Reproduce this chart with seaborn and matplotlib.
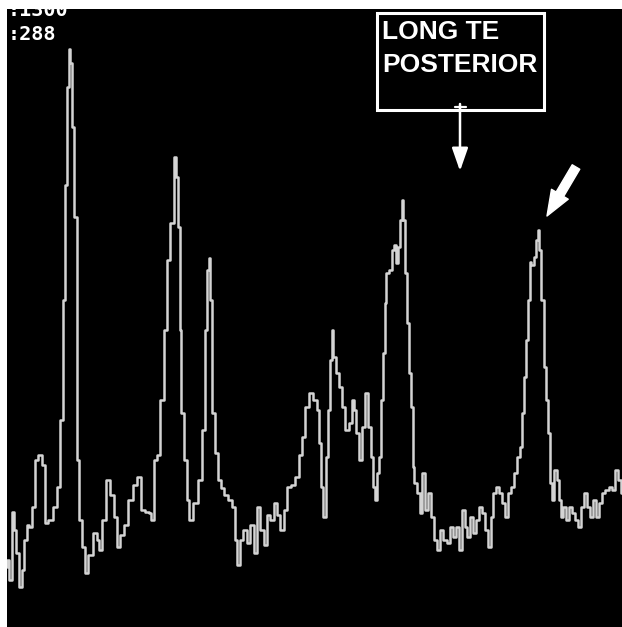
import matplotlib
matplotlib.use("Agg")
import matplotlib.pyplot as plt
import seaborn as sns
import pandas as pd
from matplotlib.patches import Rectangle

# spectrum (channel position, signal intensity)
channel = [
    7, 8, 10, 13, 15, 17, 20, 23, 25, 28,
    30, 33, 36, 40, 43, 46, 50, 55, 58, 61,
    64, 66, 68, 69, 71, 73, 75, 78, 80, 83,
    86, 90, 95, 98, 100, 103, 108, 112, 115, 118,
    122, 126, 130, 135, 139, 142, 147, 150, 152, 155,
    158, 162, 165, 168, 172, 175, 177, 179, 180, 182,
    185, 188, 190, 195, 200, 203, 206, 208, 209, 211,
    213, 216, 219, 222, 226, 230, 233, 236, 238, 241,
    245, 248, 252, 255, 258, 262, 265, 268, 272, 275,
    278, 282, 285, 289, 293, 297, 300, 303, 307, 311,
    315, 318, 320, 322, 324, 327, 329, 331, 332, 334,
    337, 340, 343, 347, 350, 353, 355, 357, 360, 363,
    366, 369, 372, 374, 376, 378, 380, 382, 384, 385,
    387, 390, 393, 395, 397, 399, 401, 402, 404, 406,
    408, 410, 412, 413, 415, 418, 421, 423, 426, 429,
    432, 435, 438, 441, 445, 448, 451, 454, 457, 460,
    463, 466, 468, 471, 474, 477, 480, 483, 486, 489,
    492, 494, 497, 500, 503, 506, 509, 512, 515, 518,
    521, 523, 525, 527, 529, 530, 532, 535, 537, 538,
    540, 542, 545, 547, 549, 551, 553, 555, 558, 560,
    562, 564, 567, 570, 573, 576, 579, 582, 585, 588,
    591, 594, 597, 600, 603, 607, 610, 613, 616, 619,
    622,
]
signal = [
    60, 67, 47, 115, 97, 74, 40, 57, 87, 102,
    100, 120, 167, 172, 162, 104, 107, 120, 140, 207,
    327, 442, 540, 578, 564, 500, 410, 167, 107, 80,
    54, 72, 94, 87, 77, 107, 147, 132, 110, 80,
    92, 102, 127, 142, 150, 117, 115, 114, 107, 167,
    172, 227, 297, 367, 404, 470, 450, 400, 297, 214,
    167, 127, 107, 124, 147, 197, 297, 357, 369, 327,
    214, 174, 147, 139, 132, 127, 120, 87, 62, 87,
    97, 84, 102, 74, 120, 97, 82, 112, 107, 124,
    112, 97, 117, 140, 142, 150, 172, 190, 220, 234,
    227, 217, 184, 140, 110, 170, 217, 267, 297, 270,
    254, 240, 220, 197, 204, 227, 217, 194, 167, 200,
    234, 200, 170, 140, 127, 154, 170, 227, 274, 324,
    354, 357, 377, 382, 364, 380, 407, 427, 407, 354,
    304, 254, 220, 160, 144, 134, 114, 154, 117, 134,
    110, 87, 77, 97, 87, 84, 100, 90, 100, 77,
    117, 100, 90, 110, 94, 107, 120, 114, 97, 80,
    110, 134, 140, 134, 124, 110, 134, 140, 154, 170,
    180, 214, 250, 287, 327, 365, 362, 370, 387, 397,
    377, 327, 260, 227, 194, 144, 127, 157, 147, 127,
    110, 120, 107, 120, 114, 107, 100, 120, 134, 120,
    110, 127, 110, 124, 134, 137, 140, 137, 157, 147,
    134,
]
header_lines = [":1300", ":288"]
box_lines = ["LONG TE", "POSTERIOR"]

df = pd.DataFrame({"channel": channel, "signal": signal})

sns.set_theme(style="dark")
W, H = 622, 627
fig = plt.figure(figsize=(W / 100, H / 100), dpi=100, facecolor="white")
ax = fig.add_axes([7 / W, 0, (W - 7) / W, (H - 9) / H])
ax.set_facecolor("black")

sns.lineplot(data=df, x="channel", y="signal", ax=ax, estimator=None, sort=False,
             color="#d4d4d4", linewidth=1.8, drawstyle="steps-mid")

ax.set_xlim(7, 622)
ax.set_ylim(0, H - 9)
ax.set_xticks([])
ax.set_yticks([])
ax.set_xlabel("")
ax.set_ylabel("")
for s in ax.spines.values():
    s.set_visible(False)

# header text (top line cut by the frame)
ax.text(8, H - 16, header_lines[0], color="white", fontsize=14.5, family="DejaVu Sans Mono",
        fontweight="bold", va="baseline", ha="left", clip_on=True)
ax.text(8, H - 40, header_lines[1], color="white", fontsize=14.5, family="DejaVu Sans Mono",
        fontweight="bold", va="baseline", ha="left", clip_on=True)

# label box
ax.add_patch(Rectangle((377, H - 110), 167, 97, fill=False, edgecolor="white", linewidth=2.2))
ax.text(382, H - 39, box_lines[0], color="white", fontsize=19, family="Liberation Sans",
        fontweight="bold", va="baseline", ha="left")
ax.text(382, H - 72, box_lines[1], color="white", fontsize=19, family="Liberation Sans",
        fontweight="bold", va="baseline", ha="left")

# thin arrow from box
ax.plot([455, 466], [H - 107, H - 107], color="white", linewidth=1.6)
ax.annotate("", xy=(460, H - 171), xytext=(460, H - 104),
            arrowprops=dict(arrowstyle="-|>,head_width=0.35,head_length=1.0", color="white",
                            lw=1.8, mutation_scale=14, shrinkA=0, shrinkB=0))

# thick arrow at last peak
ax.annotate("", xy=(547, H - 216), xytext=(576, H - 167),
            arrowprops=dict(arrowstyle="simple,head_width=1.0,head_length=1.3,tail_width=0.45",
                            color="white", mutation_scale=14, shrinkA=0, shrinkB=0))

fig.savefig("out.png", dpi=100, facecolor="white")
